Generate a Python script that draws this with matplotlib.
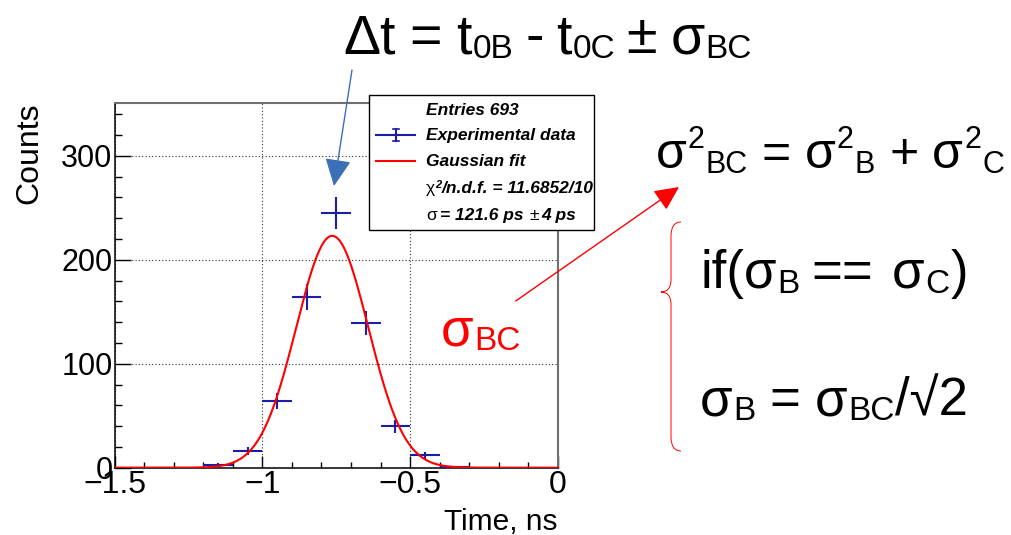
import numpy as np
import matplotlib
matplotlib.use("Agg")
import matplotlib.pyplot as plt
from matplotlib.ticker import MultipleLocator, FixedLocator
from matplotlib.patches import Rectangle, PathPatch
from matplotlib.path import Path
from matplotlib.lines import Line2D

# ---------------- data ----------------
bin_centers = [-1.45, -1.35, -1.25, -1.15, -1.05, -0.95, -0.85, -0.75,
               -0.65, -0.55, -0.45, -0.35, -0.25, -0.15, -0.05]
counts = [0, 0, 0, 3, 16, 64, 164, 245, 139, 40, 12, 1, 0, 0, 0]
count_errors = [0, 0, 0, 1.7, 4.0, 8.0, 12.8, 15.7, 11.8, 6.3, 3.5, 1.0, 0, 0, 0]
bin_half_width = 0.05

fit_amplitude = 223.0
fit_mean = -0.7635
fit_sigma = 0.1216

x_ticks = [-1.5, -1.0, -0.5, 0.0]
x_tick_labels = ["\u22121.5", "\u22121", "\u22120.5", "0"]
y_ticks = [0, 100, 200, 300]
y_tick_labels = ["0", "100", "200", "300"]

legend_lines = ["Entries 693", "Experimental data", "Gaussian fit"]

# ---------------- figure ----------------
W, H = 1011, 535
FONT = "Liberation Sans"
plt.rcParams["font.family"] = [FONT, "DejaVu Sans"]
fig = plt.figure(figsize=(W / 100, H / 100), dpi=100)
fig.patch.set_facecolor("white")


def fx(x):
    return x / W


def fy(y):
    return 1 - y / H


ax = fig.add_axes([fx(114.5), fy(467.7), fx(558) - fx(114.5), fy(102.7) - fy(467.7)])
ax.set_xlim(-1.5, 0)
ax.set_ylim(0, 351)

BLUE = "#1c1ca8"
ax.errorbar(bin_centers, counts, xerr=bin_half_width, yerr=count_errors,
            fmt="none", ecolor=BLUE, elinewidth=1.5, capsize=0, zorder=3)
xf = np.linspace(-1.5, 0, 600)
ax.plot(xf, fit_amplitude * np.exp(-0.5 * ((xf - fit_mean) / fit_sigma) ** 2),
        color="#ff0000", lw=1.5, zorder=4)

ax.xaxis.set_major_locator(FixedLocator(x_ticks))
ax.xaxis.set_minor_locator(MultipleLocator(0.1))
ax.yaxis.set_major_locator(FixedLocator(y_ticks))
ax.yaxis.set_minor_locator(MultipleLocator(20))
ax.set_xticklabels(x_tick_labels)
ax.set_yticklabels(y_tick_labels)
ax.tick_params(axis="x", which="major", direction="in", length=9, width=1,
               labelsize=23, pad=1.5, top=False)
ax.tick_params(axis="x", which="minor", direction="in", length=4.5, width=1, top=False)
ax.tick_params(axis="y", which="major", direction="in", length=11.5, width=1,
               labelsize=22, pad=1.5, right=False)
ax.tick_params(axis="y", which="minor", direction="in", length=5, width=1, right=False)
ax.grid(True, which="major", color="#303030", lw=0.8, linestyle=(0, (1, 2)))
for s in ["left", "bottom"]:
    ax.spines[s].set_color("black")
    ax.spines[s].set_linewidth(1.1)
for s in ["top", "right"]:
    ax.spines[s].set_color("#707070")
    ax.spines[s].set_linewidth(1.5)

fig.text(fx(29.5), fy(103), "Counts", rotation=90, ha="center", va="top", fontsize=23)
fig.text(fx(557), fy(530), "Time, ns", ha="right", va="baseline", fontsize=21.5)

# ---------------- legend box ----------------
fig.patches.append(Rectangle((fx(369), fy(230)), fx(594) - fx(369), fy(95) - fy(230),
                             transform=fig.transFigure, facecolor="white",
                             edgecolor="black", lw=1.0, zorder=5))
fig.lines.append(Line2D([fx(376), fx(415)], [fy(135), fy(135)], transform=fig.transFigure,
                        color=BLUE, lw=1.5, zorder=6))
fig.lines.append(Line2D([fx(395.5), fx(395.5)], [fy(129), fy(141)], transform=fig.transFigure,
                        color=BLUE, lw=1.5, zorder=6))
for yy in (129, 141):
    fig.lines.append(Line2D([fx(392.5), fx(398.5)], [fy(yy), fy(yy)], transform=fig.transFigure,
                            color=BLUE, lw=1.2, zorder=6))
fig.lines.append(Line2D([fx(376), fx(415)], [fy(161), fy(161)], transform=fig.transFigure,
                        color="#ff0000", lw=1.5, zorder=6))

canvas = fig.canvas
renderer = canvas.get_renderer()


def runs(x0, y0, items, color="black", z=7):
    x = x0
    for it in items:
        txt, size, dy, gap = it[:4]
        kw = it[4] if len(it) > 4 else {}
        t = fig.text(fx(x), fy(y0 + dy), txt, fontsize=size, ha="left", va="baseline",
                     color=color, zorder=z, family=[FONT, "DejaVu Sans"], **kw)
        bb = t.get_window_extent(renderer)
        x += bb.width + gap
    return x


BI = dict(fontweight="bold", fontstyle="italic")
LS = 12.5
runs(426, 115, [(legend_lines[0], LS, 0, 0, BI)])
runs(426, 140, [(legend_lines[1], LS, 0, 0, BI)])
runs(426, 166, [(legend_lines[2], LS, 0, 0, BI)])
runs(426, 193, [("\u03c7", LS, 0, 0), ("2", 8, -5, 0, BI),
                ("/n.d.f. = 11.6852/10", LS, 0, 0, BI)])
runs(426, 220, [("\u03c3", LS, 0, 3), ("= 121.6 ps", LS, 0, 6, BI), ("\u00b1", LS, 0, 3),
                ("4 ps", LS, 0, 0, BI)])

# ---------------- equations ----------------
S, s = 40, 24
runs(343, 53, [("\u0394t", S, 0, 14), ("=", S, 0, 14), ("t", S, 0, 1), ("0B", s, 5, 12),
               ("-", S, 0, 12), ("t", S, 0, 1), ("0C", s, 5, 11), ("\u00b1", S, 0, 14),
               ("\u03c3", S, 0, 1), ("BC", s, 5, 0)])

M, m = 36, 22
runs(656, 168, [("\u03c3", M, 0, 1), ("2", m, -20, 1), ("BC", m, 5, 14), ("=", M, 0, 14),
                ("\u03c3", M, 0, 1), ("2", m, -20, 1), ("B", m, 5, 14), ("+", M, 0, 14),
                ("\u03c3", M, 0, 1), ("2", m, -20, 1), ("C", m, 5, 0)])

L, l = 38, 24
runs(700, 288, [("if(\u03c3", L, 0, 1), ("B", l, 5, 12), ("==", L, 0, 18), ("\u03c3", L, 0, 1),
                ("C", l, 5, 1), (")", L, 0, 0)])
runs(700, 415, [("\u03c3", L, 0, 1), ("B", l, 5, 13), ("=", L, 0, 15), ("\u03c3", L, 0, 1),
                ("BC", l, 5, 0), ("/\u221a2", L, 0, 0)])

runs(441, 345, [("\u03c3", L, 0, 1), ("BC", l, 5, 0)], color="#ff0000")

# ---------------- arrows ----------------
ax.annotate("", xy=(334, H - 186), xytext=(352, H - 70), xycoords="figure pixels",
            textcoords="figure pixels", annotation_clip=False,
            arrowprops=dict(arrowstyle="-|>,head_length=1.0,head_width=0.48",
                            mutation_scale=17, color="#3b6fb6", lw=1.0, shrinkA=0, shrinkB=0))
ax.annotate("", xy=(679, H - 187), xytext=(515.7, H - 301), xycoords="figure pixels",
            textcoords="figure pixels", annotation_clip=False,
            arrowprops=dict(arrowstyle="-|>,head_length=1.0,head_width=0.48",
                            mutation_scale=15, color="#ff0000", lw=1.0, shrinkA=0, shrinkB=0))

# ---------------- brace ----------------
bp = [(681, 222), (671, 222), (671, 236), (671, 280), (671, 292), (661, 292),
      (671, 292), (671, 304), (671, 437), (671, 451), (681, 451)]
codes = [Path.MOVETO, Path.CURVE3, Path.CURVE3, Path.LINETO, Path.CURVE3, Path.CURVE3,
         Path.CURVE3, Path.CURVE3, Path.LINETO, Path.CURVE3, Path.CURVE3]
brace = Path([(fx(x), fy(y)) for x, y in bp], codes)
fig.patches.append(PathPatch(brace, transform=fig.transFigure, fill=False,
                             edgecolor="#ff0000", lw=0.7, zorder=5))

fig.savefig("out.png", dpi=100)
